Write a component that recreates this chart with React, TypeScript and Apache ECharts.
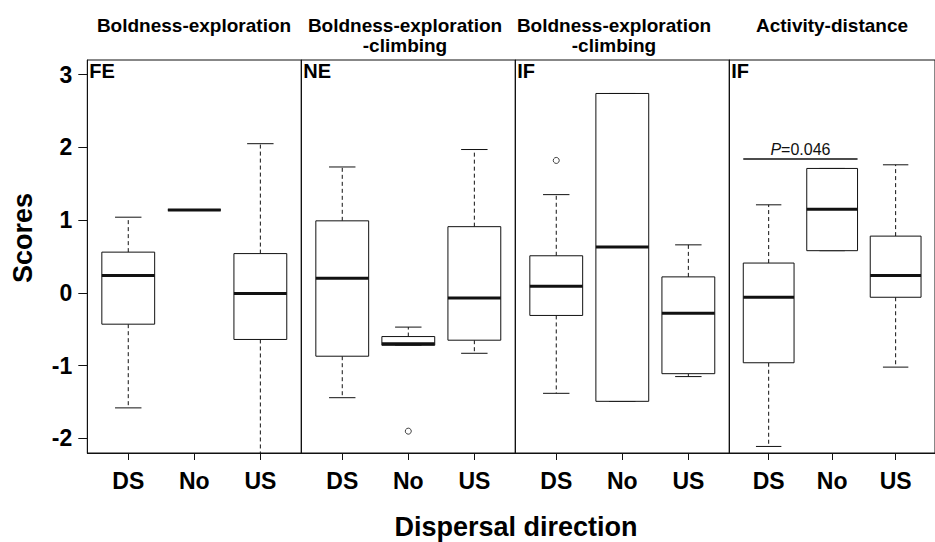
import React, { useEffect, useRef } from 'react';
import * as echarts from 'echarts';

// ---------- data ----------
const categories = ['DS', 'No', 'US'];
const yTickValues = [-2, -1, 0, 1, 2, 3];
const panelTitles = [
  'Boldness-exploration',
  'Boldness-exploration\n-climbing',
  'Boldness-exploration\n-climbing',
  'Activity-distance',
];
const panelTags = ['FE', 'NE', 'IF', 'IF'];

// each box: [lower whisker, Q1, median, Q3, upper whisker], order DS, No, US
const feBoxes = [
  [-1.58, -0.43, 0.24, 0.56, 1.04],
  [1.14, 1.14, 1.14, 1.14, 1.14],
  [-2.6, -0.64, -0.01, 0.54, 2.05],
];
const neBoxes = [
  [-1.44, -0.87, 0.2, 0.99, 1.73],
  [-0.72, -0.72, -0.7, -0.6, -0.47],
  [-0.83, -0.65, -0.07, 0.91, 1.97],
];
const ifClimbingBoxes = [
  [-1.38, -0.31, 0.09, 0.51, 1.35],
  [-1.49, -1.49, 0.63, 2.74, 2.74],
  [-1.15, -1.11, -0.28, 0.22, 0.66],
];
const ifActivityBoxes = [
  [-2.11, -0.96, -0.06, 0.41, 1.21],
  [0.58, 0.58, 1.15, 1.71, 1.71],
  [-1.02, -0.06, 0.24, 0.78, 1.76],
];
// outliers: [category, value]
const feOutliers: [string, number][] = [];
const neOutliers: [string, number][] = [['No', -1.9]];
const ifClimbingOutliers: [string, number][] = [['DS', 1.82]];
const ifActivityOutliers: [string, number][] = [];

// significance annotation (last panel)
const pBracket = ['DS', 'No'];
const pBracketY = 1.84;
const pItalic = 'P';
const pRest = '=0.046';

const xAxisTitle = 'Dispersal direction';
const yAxisTitle = 'Scores';

// ---------- layout / style ----------
const FONT = "'Liberation Sans', Arial, Helvetica, sans-serif";
const PANEL_LEFT = 87.3;
const PANEL_W = 214;
const PLOT_TOP = 60;
const PLOT_H = 393;
const TITLE_CENTERS = [194, 405, 614, 832];
const INK = '#111';

const panelBoxes = [feBoxes, neBoxes, ifClimbingBoxes, ifActivityBoxes];
const panelOutliers = [feOutliers, neOutliers, ifClimbingOutliers, ifActivityOutliers];

const catPos = (c: string) => categories.indexOf(c) + 1;

const boxRender = (_params: any, api: any) => {
  const x = api.value(0);
  const lw = api.value(1);
  const q1 = api.value(2);
  const med = api.value(3);
  const q3 = api.value(4);
  const uw = api.value(5);
  const p = (xx: number, yy: number) => api.coord([xx, yy]);
  const hw = 0.4;
  const cw = 0.2;
  const solid = { stroke: INK, lineWidth: 1, fill: null };
  const dashed = { stroke: INK, lineWidth: 1, fill: null, lineDash: [4, 3] };
  const mk = (a: number[], b: number[], style: any) => ({
    type: 'line',
    shape: { x1: a[0], y1: a[1], x2: b[0], y2: b[1] },
    style,
  });
  const lt = p(x - hw, q3);
  const rb = p(x + hw, q1);
  return {
    type: 'group',
    children: [
      mk(p(x, q3), p(x, uw), dashed),
      mk(p(x, q1), p(x, lw), dashed),
      mk(p(x - cw, uw), p(x + cw, uw), solid),
      mk(p(x - cw, lw), p(x + cw, lw), solid),
      {
        type: 'rect',
        shape: { x: lt[0], y: lt[1], width: rb[0] - lt[0], height: rb[1] - lt[1] },
        style: { fill: '#fff', stroke: INK, lineWidth: 1 },
      },
      mk(p(x - hw, med), p(x + hw, med), { stroke: INK, lineWidth: 3, fill: null }),
    ],
  };
};

const annotationRender = (_params: any, api: any) => {
  const x1 = api.value(0);
  const x2 = api.value(1);
  const y = api.value(2);
  const a = api.coord([x1, y]);
  const b = api.coord([x2, y]);
  return {
    type: 'group',
    children: [
      {
        type: 'line',
        shape: { x1: a[0], y1: a[1], x2: b[0], y2: b[1] },
        style: { stroke: INK, lineWidth: 1.5 },
      },
      {
        type: 'text',
        x: (a[0] + b[0]) / 2,
        y: a[1] - 1,
        style: {
          text: '{i|' + pItalic + '}{n|' + pRest + '}',
          align: 'center',
          verticalAlign: 'bottom',
          fill: INK,
          fontSize: 16,
          fontFamily: FONT,
          rich: {
            i: { fontStyle: 'italic', fontSize: 16, fontFamily: FONT, fill: INK },
            n: { fontSize: 16, fontFamily: FONT, fill: INK },
          },
        },
      },
    ],
  };
};

export default function App() {
  const ref = useRef<HTMLDivElement>(null);
  useEffect(() => {
    if (!ref.current) return;
    const chart = echarts.init(ref.current, undefined, { renderer: 'svg' });

    const grids = panelBoxes.map((_, i) => ({
      left: PANEL_LEFT + i * PANEL_W,
      top: PLOT_TOP,
      width: PANEL_W,
      height: PLOT_H,
      show: true,
      borderColor: INK,
      borderWidth: 1,
      backgroundColor: 'transparent',
    }));

    const xAxes = panelBoxes.map((_, i) => ({
      type: 'value',
      gridIndex: i,
      min: 0.38,
      max: 3.62,
      axisLine: { show: true, onZero: false, lineStyle: { color: INK, width: 1 } },
      axisTick: {
        show: true,
        customValues: [1, 2, 3],
        length: 7,
        lineStyle: { color: INK },
      },
      axisLabel: {
        customValues: [1, 2, 3],
        formatter: (v: number) => categories[Math.round(v) - 1] ?? '',
        fontSize: 23,
        fontWeight: 'bold',
        fontFamily: FONT,
        color: '#000',
        margin: 16,
      },
      splitLine: { show: false },
    }));

    const yAxes = panelBoxes.map((_, i) => ({
      type: 'value',
      gridIndex: i,
      min: -2.2,
      max: 3.2,
      axisLine: { show: true, onZero: false, lineStyle: { color: INK, width: 1 } },
      axisTick: {
        show: i === 0,
        customValues: yTickValues,
        length: 9,
        lineStyle: { color: INK },
      },
      axisLabel: {
        show: i === 0,
        customValues: yTickValues,
        fontSize: 23,
        fontWeight: 'bold',
        fontFamily: FONT,
        color: '#000',
        margin: 15,
      },
      splitLine: { show: false },
    }));

    const series: any[] = [];
    panelBoxes.forEach((boxes, i) => {
      series.push({
        type: 'custom',
        xAxisIndex: i,
        yAxisIndex: i,
        clip: true,
        renderItem: boxRender,
        data: boxes.map((b, k) => [k + 1, ...b]),
        encode: { x: 0, y: [1, 2, 3, 4, 5] },
        silent: true,
      });
      if (panelOutliers[i].length) {
        series.push({
          type: 'scatter',
          xAxisIndex: i,
          yAxisIndex: i,
          symbol: 'circle',
          symbolSize: 6,
          itemStyle: { color: '#fff', borderColor: INK, borderWidth: 1 },
          data: panelOutliers[i].map(([c, v]) => [catPos(c), v]),
          silent: true,
        });
      }
    });
    series.push({
      type: 'custom',
      xAxisIndex: 3,
      yAxisIndex: 3,
      renderItem: annotationRender,
      data: [[catPos(pBracket[0]) - 0.4, catPos(pBracket[1]) + 0.4, pBracketY]],
      encode: { x: [0, 1], y: 2 },
      silent: true,
    });

    const graphics: any[] = [];
    panelTitles.forEach((t, i) => {
      graphics.push({
        type: 'text',
        x: TITLE_CENTERS[i],
        y: 15,
        style: {
          text: t,
          align: 'center',
          verticalAlign: 'top',
          textAlign: 'center',
          textVerticalAlign: 'top',
          fontSize: 19,
          fontWeight: 'bold',
          fontFamily: FONT,
          lineHeight: 20,
          fill: '#000',
        },
      });
    });
    panelTags.forEach((t, i) => {
      graphics.push({
        type: 'text',
        x: PANEL_LEFT + i * PANEL_W + 2,
        y: 61,
        style: {
          text: t,
          align: 'left',
          verticalAlign: 'top',
          textAlign: 'left',
          textVerticalAlign: 'top',
          fontSize: 20,
          fontWeight: 'bold',
          fontFamily: FONT,
          fill: '#000',
        },
      });
    });
    graphics.push({
      type: 'text',
      x: 516,
      y: 527,
      style: {
        text: xAxisTitle,
        align: 'center',
        verticalAlign: 'middle',
        textAlign: 'center',
        textVerticalAlign: 'middle',
        fontSize: 27,
        fontWeight: 'bold',
        fontFamily: FONT,
        fill: '#000',
      },
    });
    graphics.push({
      type: 'text',
      x: 23,
      y: 238,
      rotation: Math.PI / 2,
      style: {
        text: yAxisTitle,
        align: 'center',
        verticalAlign: 'middle',
        textAlign: 'center',
        textVerticalAlign: 'middle',
        fontSize: 27,
        fontWeight: 'bold',
        fontFamily: FONT,
        fill: '#000',
      },
    });

    chart.setOption({
      animation: false,
      backgroundColor: '#fff',
      grid: grids,
      xAxis: xAxes,
      yAxis: yAxes,
      series,
      graphic: graphics,
    });
    return () => chart.dispose();
  }, []);

  return (
    <div
      ref={ref}
      style={{ position: 'fixed', left: 0, top: 0, width: 935, height: 542 }}
    />
  );
}
